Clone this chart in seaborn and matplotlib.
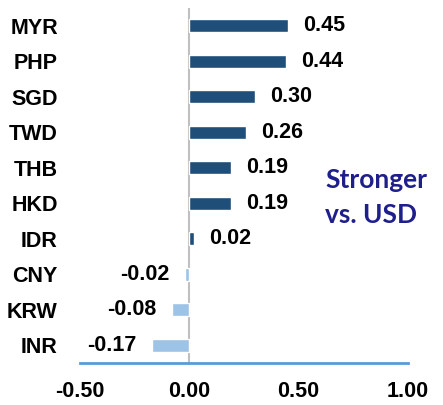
import matplotlib
matplotlib.use("Agg")
import matplotlib.pyplot as plt
import seaborn as sns
import pandas as pd

currencies = ["MYR", "PHP", "SGD", "TWD", "THB", "HKD", "IDR", "CNY", "KRW", "INR"]
values = [0.45, 0.44, 0.30, 0.26, 0.19, 0.19, 0.02, -0.02, -0.08, -0.17]
x_ticks = [-0.5, 0.0, 0.5, 1.0]
x_tick_labels = ["-0.50", "0.00", "0.50", "1.00"]

dark = "#1F4E79"
light = "#9DC3E6"

sns.set_theme(style="white")
plt.rcParams["font.family"] = ["Liberation Sans Narrow", "Liberation Sans", "DejaVu Sans"]

df = pd.DataFrame({"cur": currencies, "val": values})
df["sign"] = ["pos" if v >= 0 else "neg" for v in values]

fig = plt.figure(figsize=(4.43, 4.05), dpi=100)
ax = fig.add_axes([80/443, 1-363/405, (408-80)/443, (363-8)/405])

sns.barplot(data=df, x="val", y="cur", hue="sign", palette={"pos": dark, "neg": light},
            orient="h", width=0.38, legend=False, ax=ax, saturation=1, order=currencies)

ax.set_xlim(-0.5, 1.0)
ax.set_ylim(9.5, -0.5)
ax.set_xlabel("")
ax.set_ylabel("")

# value labels
for i, v in enumerate(values):
    if v >= 0:
        ax.annotate(f"{v:.2f}", (v, i), xytext=(11, 0), textcoords="offset points",
                    ha="left", va="center", fontsize=15.5, fontweight="bold", color="black")
    else:
        ax.annotate(f"{v:.2f}", (v, i), xytext=(-11, 0), textcoords="offset points",
                    ha="right", va="center", fontsize=15.5, fontweight="bold", color="black")

for s in ["top", "right", "left"]:
    ax.spines[s].set_visible(False)
ax.spines["bottom"].set_color("#5B9BD5")
ax.spines["bottom"].set_linewidth(2)
ax.axvline(0, color="#BFBFBF", lw=1.5, zorder=0)

ax.set_xticks(x_ticks)
ax.set_xticklabels(x_tick_labels, fontsize=15.5, fontweight="bold", color="black")
ax.tick_params(axis="x", direction="out", length=5, width=2, color="#5B9BD5", pad=8)
ax.tick_params(axis="y", length=0, pad=16)
for lbl in ax.get_yticklabels():
    lbl.set_fontsize(15.5)
    lbl.set_fontweight("bold")
    lbl.set_color("black")

fig.text(325/443, 1-180/405, "Stronger", ha="left", va="center", fontsize=19,
         fontweight="bold", color="#1F1F8C", family=["Lato", "DejaVu Sans"])
fig.text(325/443, 1-215/405, "vs. USD", ha="left", va="center", fontsize=19,
         fontweight="bold", color="#1F1F8C", family=["Lato", "DejaVu Sans"])

fig.savefig("out.png", dpi=100)
